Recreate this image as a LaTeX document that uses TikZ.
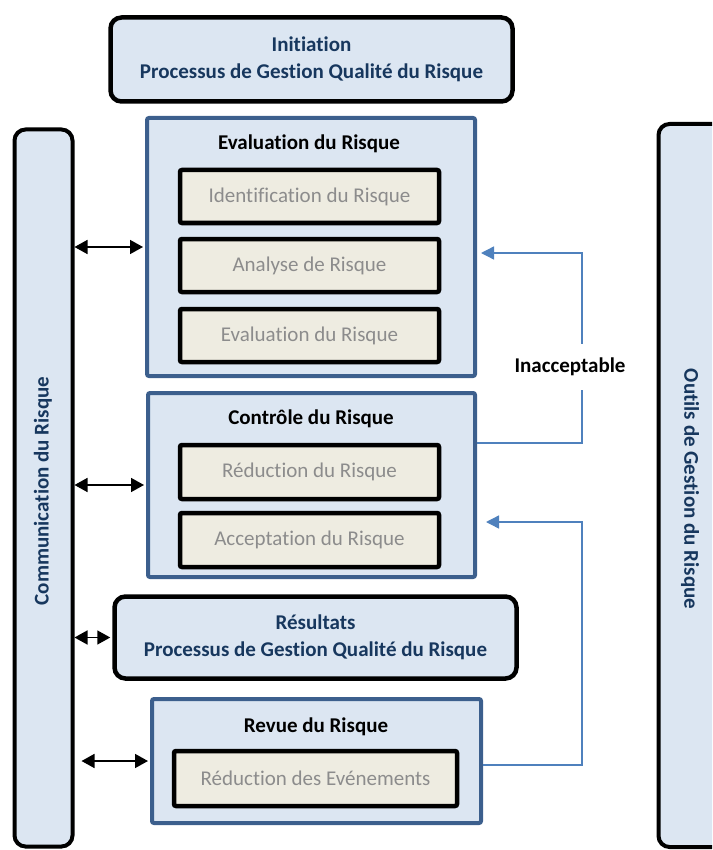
\documentclass[tikz,border=0pt]{standalone}
\usepackage{fontspec}
\setmainfont{Carlito}[Ligatures=NoCommon]
\usetikzlibrary{arrows.meta}
\definecolor{boxblue}{HTML}{DCE6F2}
\definecolor{stageblue}{HTML}{3C5F8D}
\definecolor{stepbeige}{HTML}{EEECE1}
\definecolor{steptext}{HTML}{8C8C8C}
\definecolor{navytext}{HTML}{17375E}
\definecolor{loopblue}{HTML}{4F81BD}
\tikzset{outerbox/.style = {shape=rectangle,draw=black,line width=4.5pt,fill=boxblue,rounded corners=11pt}}
\tikzset{sidebar/.style = {outerbox,line width=4pt,minimum width=58pt}}
\tikzset{stagebox/.style = {shape=rectangle,draw=stageblue,line width=4pt,fill=boxblue,rounded corners=2pt}}
\tikzset{stepbox/.style = {shape=rectangle,draw=black,line width=4.5pt,fill=stepbeige,rounded corners=2pt,
    text=steptext,font=\fontsize{21}{24}\selectfont,minimum width=259pt,minimum height=53pt}}
\tikzset{navylabel/.style = {text=navytext,font=\fontsize{21}{27}\selectfont\bfseries,align=center}}
\tikzset{stagetitle/.style = {text=black,font=\fontsize{21}{24}\selectfont\bfseries}}
\tikzset{commarrow/.style = {{Triangle[length=13pt,width=14pt]}-{Triangle[length=13pt,width=14pt]},line width=1.6pt}}
\tikzset{loopline/.style = {-{Triangle[length=13pt,width=13pt]},draw=loopblue,line width=1.4pt}}

\begin{document}
\begin{tikzpicture}[x=1pt,y=-1pt]
                    \clip (0,0) rectangle (712,850);

                    \node[outerbox,minimum width=402pt,minimum height=84pt,navylabel] (init) at (311.5,59.5)
                        {Initiation\\Processus de Gestion Qualité du Risque};

                    \node[sidebar,minimum height=717pt] (lbar) at (43.5,488) {};
                    \node[sidebar,minimum width=80pt,minimum height=723pt] (rbar) at (698.5,485.5) {};
                    \node[navylabel,rotate=90] (commlabel) at (43,491) {Communication du Risque};
                    \node[navylabel,rotate=-90] (toollabel) at (690,489) {Outils de Gestion du Risque};

                    \node[stagebox,minimum width=328pt,minimum height=258pt] (evalbox) at (311,247) {};
                    \node[stagetitle] (evaltitle) at (309,144) {Evaluation du Risque};
                    \node[stepbox] (ident) at (309.5,196.5) {Identification du Risque};
                    \node[stepbox] (analyse) at (309.5,265.5) {Analyse de Risque};
                    \node[stepbox] (evaluation) at (309.5,335.5) {Evaluation du Risque};

                    \node[stagebox,minimum width=327pt,minimum height=184pt] (ctrlbox) at (311.5,485) {};
                    \node[stagetitle] (ctrltitle) at (311,419) {Contrôle du Risque};
                    \node[stepbox,minimum height=54pt] (reduction) at (309.5,472) {Réduction du Risque};
                    \node[stepbox,minimum height=54pt] (acceptation) at (309.5,540) {Acceptation du Risque};

                    \node[outerbox,minimum width=402pt,minimum height=82pt,navylabel] (result) at (315.5,637.5)
                        {Résultats\\Processus de Gestion Qualité du Risque};

                    \node[stagebox,minimum width=329pt,minimum height=124pt] (revuebox) at (316.5,761) {};
                    \node[stagetitle] (revuetitle) at (316,727) {Revue du Risque};
                    \node[stepbox,minimum width=283pt,minimum height=55pt] (evenements) at (315.5,778.5) {Réduction des Evénements};

                    \draw[commarrow] (lbar.east |- evalbox.west) -- ([xshift=-2pt]evalbox.west);
                    \draw[commarrow] (lbar.east |- ctrlbox.west) -- ([xshift=-2pt]ctrlbox.west);
                    \draw[commarrow] (lbar.east |- result.west) -- ([xshift=-2pt]result.west);
                    \draw[commarrow] ([xshift=7pt]lbar.east |- revuebox.west) -- ([xshift=-2pt]revuebox.west);

                    \coordinate (bendA) at (582,443);
                    \coordinate (bendB) at (582,253);
                    \coordinate (bendC) at (582,765);
                    \coordinate (bendD) at (582,522);
                    \draw[loopline,shorten >=4pt] ([yshift=42pt]ctrlbox.east) -- (bendA) -- (bendB) -- (evalbox.east |- bendB);
                    \draw[loopline,shorten >=9pt] ([yshift=-4pt]revuebox.east) -- (bendC) -- (bendD) -- (ctrlbox.east |- bendD);
                    \node[stagetitle,fill=white,inner ysep=14pt] (inaccept) at (570,367) {Inacceptable};
                \end{tikzpicture}
\end{document}
